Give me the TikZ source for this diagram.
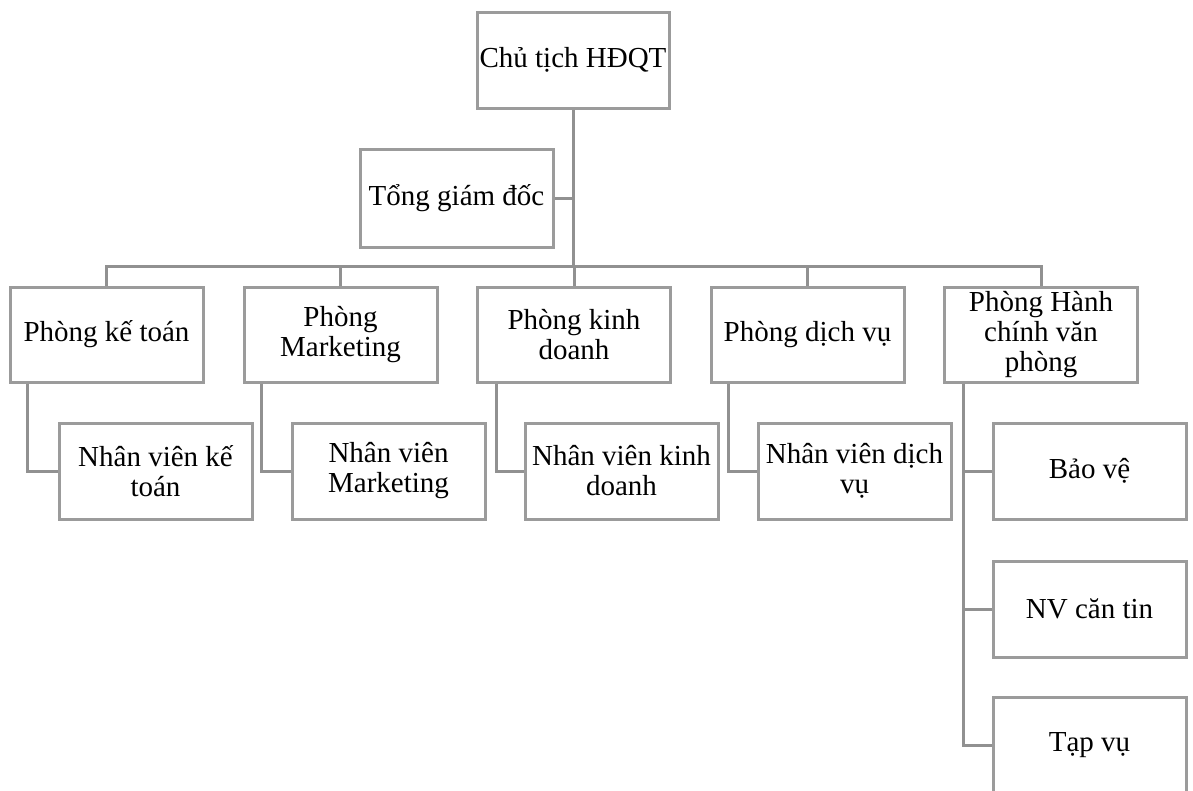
\documentclass[tikz,border=0pt]{standalone}
\usepackage{fontspec}
\setmainfont{Liberation Serif}
\definecolor{linegray}{RGB}{155,155,155}
\definecolor{conngray}{RGB}{145,145,145}
\tikzset{
  box/.style={draw=linegray, line width=3pt, fill=white, rectangle,
    minimum width=193pt, minimum height=96pt, inner sep=0pt, align=center,
    font=\fontsize{29}{30}\selectfont},
  conn/.style={draw=conngray, line width=3pt}
}
\begin{document}
\begin{tikzpicture}[x=1pt,y=-1pt]
\clip (0,0) rectangle (1193,790);
\fill[white] (0,0) rectangle (1193,790);
% nodes
\node[box, minimum width=192pt] (top) at (573,60) {Chủ tịch HĐQT};
\node[box, minimum height=98pt] (tgd) at (456.5,198) {Tổng giám đốc};
\node[box, minimum height=95pt] (pkt) at (106.5,334.5) {Phòng kế toán};
\node[box, minimum height=95pt] (pmk) at (340.5,334.5) {Phòng\\Marketing};
\node[box, minimum height=95pt] (pkd) at (574,334.5) {Phòng kinh\\doanh};
\node[box, minimum height=95pt] (pdv) at (807.5,334.5) {Phòng dịch vụ};
\node[box, minimum height=95pt] (phc) at (1041,334.5) {Phòng Hành\\chính văn\\phòng};
\node[box] (nvkt) at (155.5,471) {Nhân viên kế\\toán};
\node[box] (nvmk) at (388.5,471) {Nhân viên\\Marketing};
\node[box] (nvkd) at (621.5,471) {Nhân viên kinh\\doanh};
\node[box] (nvdv) at (854.5,471) {Nhân viên dịch\\vụ};
\node[box] (bv) at (1089.5,471) {Bảo vệ};
\node[box] (nvct) at (1089.5,609) {NV căn tin};
\node[box] (tv) at (1089.5,745) {Tạp vụ};
\coordinate (bus) at (573,266);
% connectors
\draw[conn] (top.south) -- (bus);
\draw[conn] (tgd.east) -- (tgd.east -| top.south);
\draw[conn] (bus) -| (pkt.north);
\draw[conn] (bus) -| (pmk.north);
\draw[conn] (bus) -| (pkd.north);
\draw[conn] (bus) -| (pdv.north);
\draw[conn] (bus) -| (phc.north);
\draw[conn] ([xshift=19pt]pkt.south west) |- (nvkt.west);
\draw[conn] ([xshift=19pt]pmk.south west) |- (nvmk.west);
\draw[conn] ([xshift=20pt]pkd.south west) |- (nvkd.west);
\draw[conn] ([xshift=19pt]pdv.south west) |- (nvdv.west);
\draw[conn] ([xshift=20pt]phc.south west) |- (bv.west);
\draw[conn] ([xshift=20pt]phc.south west) |- (nvct.west);
\draw[conn] ([xshift=20pt]phc.south west) |- (tv.west);
\end{tikzpicture}
\end{document}
